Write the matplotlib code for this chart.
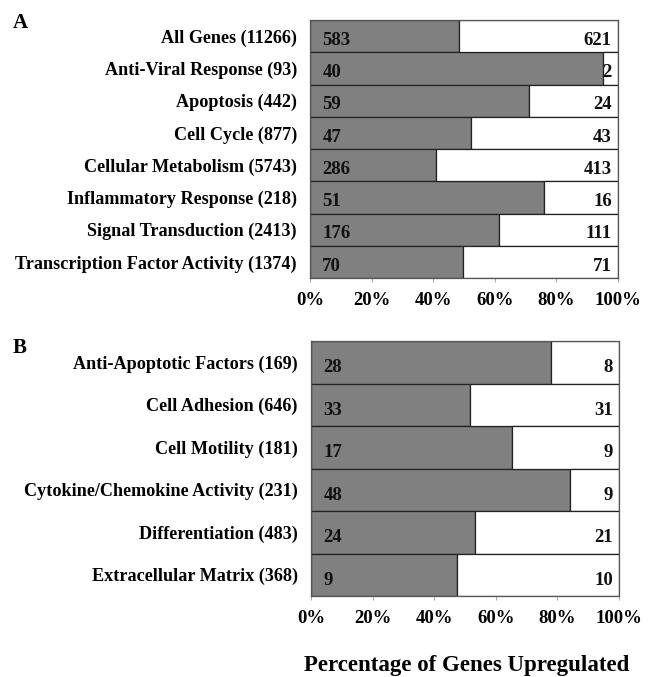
import matplotlib
matplotlib.use("Agg")
import matplotlib.pyplot as plt
import numpy as np

plt.rcParams['font.family'] = ['Liberation Serif', 'DejaVu Serif']
plt.rcParams['font.weight'] = 'bold'

# Panel A data
cats_a = ["All Genes (11266)", "Anti-Viral Response (93)", "Apoptosis (442)",
          "Cell Cycle (877)", "Cellular Metabolism (5743)", "Inflammatory Response (218)",
          "Signal Transduction (2413)", "Transcription Factor Activity (1374)"]
up_a = [583, 40, 59, 47, 286, 51, 176, 70]
down_a = [621, 2, 24, 43, 413, 16, 111, 71]

# Panel B data
cats_b = ["Anti-Apoptotic Factors (169)", "Cell Adhesion (646)", "Cell Motility (181)",
          "Cytokine/Chemokine Activity (231)", "Differentiation (483)", "Extracellular Matrix (368)"]
up_b = [28, 33, 17, 48, 24, 9]
down_b = [8, 31, 9, 9, 21, 10]

xticks = [0, 20, 40, 60, 80, 100]
xticklabels = ["0%", "20%", "40%", "60%", "80%", "100%"]

W, H = 650, 677
fig = plt.figure(figsize=(W / 100, H / 100), dpi=100)


def px_axes(left, top, right, bottom):
    return fig.add_axes([left / W, 1 - bottom / H, (right - left) / W, (bottom - top) / H])


def draw(ax, cats, up, down):
    up = np.array(up, float)
    down = np.array(down, float)
    pct = up / (up + down) * 100
    y = np.arange(len(cats))
    ax.barh(y, pct, height=1.0, color='#808080', edgecolor='#222222', linewidth=0.9)
    ax.barh(y, 100 - pct, left=pct, height=1.0, color='white', edgecolor='#222222', linewidth=0.9)
    for yi, u, d in zip(y, up, down):
        ax.text(4, yi + 0.13, f"{int(u)}", ha='left', va='center', fontsize=13.5,
                fontweight='bold', color='#111111')
        ax.text(98, yi + 0.13, f"{int(d)}", ha='right', va='center', fontsize=13.5,
                fontweight='bold', color='#111111')
    ax.set_xlim(0, 100)
    ax.set_ylim(len(cats) - 0.5, -0.5)
    ax.set_yticks(y)
    ax.set_yticklabels(cats, fontsize=13.1, fontweight='bold')
    ax.set_xticks(xticks)
    ax.set_xticklabels(xticklabels, fontsize=13.5, fontweight='bold')
    ax.tick_params(axis='x', length=3, color='#aaaaaa', pad=7)
    ax.tick_params(axis='y', length=0, pad=9.5)
    for s in ax.spines.values():
        s.set_color('#555555')
        s.set_linewidth(0.9)


ax_a = px_axes(310, 20, 618, 278)
draw(ax_a, cats_a, up_a, down_a)
ax_b = px_axes(311, 341, 619, 596)
draw(ax_b, cats_b, up_b, down_b)

fig.text(13 / W, 1 - 23 / H, "A", fontsize=15, fontweight='bold', va='center', ha='left')
fig.text(13 / W, 1 - 348 / H, "B", fontsize=15, fontweight='bold', va='center', ha='left')
fig.text(467 / W, 1 - 665 / H, "Percentage of Genes Upregulated", fontsize=16.5,
         fontweight='bold', ha='center', va='center')

fig.savefig("out.png", dpi=100)
